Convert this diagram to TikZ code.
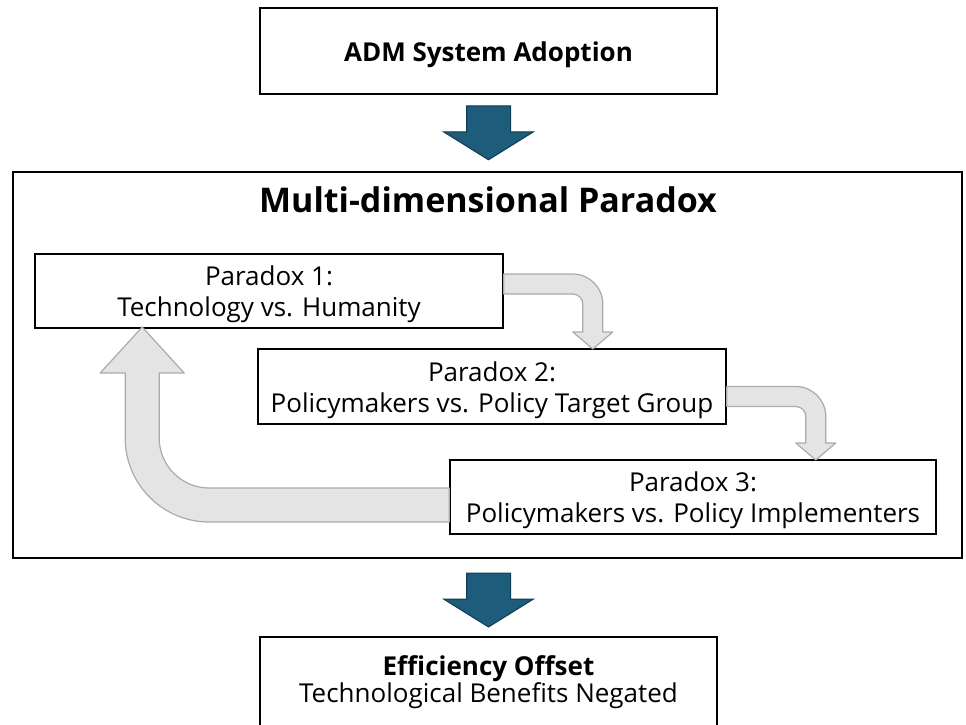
\documentclass[tikz,border=0pt]{standalone}
\usepackage{fontspec}
\setmainfont{Open Sans}
\usetikzlibrary{positioning,calc}

\definecolor{admblue}{HTML}{1D5C7B}
\definecolor{admblueline}{HTML}{0F3C52}
\definecolor{loopfill}{HTML}{E4E4E4}
\definecolor{loopline}{HTML}{ABABAB}

% strut that pushes the first text line down a little
\newcommand{\topstrut}{\rule{0pt}{27pt}}

\begin{document}
\begin{tikzpicture}[x=1pt, y=-1pt,
    box/.style={draw=black, line width=1.6pt, fill=white, align=center, inner sep=0pt},
    paradox/.style={box, minimum height=74pt, font=\fontsize{26}{31}\selectfont},
    downarrow/.style={fill=admblue, draw=admblueline, line width=1pt},
    loopback/.style={fill=loopfill, draw=loopline, line width=1.2pt, line join=round}]
    \useasboundingbox (0,0) rectangle (966,725);

    % Adoption box
    \node[box, minimum width=457pt, minimum height=86pt, font=\fontsize{26}{31}\selectfont\bfseries] (adm) at (488.5,51) {\topstrut ADM System Adoption};

    % Outer frame with title
    \node[draw=black, line width=2pt, minimum width=949pt, minimum height=386pt, inner sep=0pt] (frame) at (487.5,365) {};
    \node[font=\fontsize{34}{40}\selectfont\bfseries] (title) at (488,200) {Multi-dimensional Paradox};

    % The three paradoxes
    \node[paradox, minimum width=468pt] (p1) at (269,291) {\topstrut Paradox 1:\\Technology vs. Humanity};
    \node[paradox, minimum width=468pt, minimum height=75pt] (p2) at (492,386.5) {\topstrut Paradox 2:\\Policymakers vs. Policy Target Group};
    \node[paradox, minimum width=486pt] (p3) at (693,497) {\topstrut Paradox 3:\\Policymakers vs. Policy Implementers};

    % Efficiency offset box (runs off the bottom)
    \node[box, minimum width=457pt, minimum height=90pt, font=\fontsize{26}{26}\selectfont] (offset) at (488.5,682) {{\bfseries Efficiency Offset}\\Technological Benefits Negated};

    % Blue block arrows
    \draw[downarrow] ([xshift=-22pt,yshift=-11pt]adm.south) -- ++(44,0) -- ++(0,26) -- ++(23,0) -- ++(-45,28) -- ++(-45,-28) -- ++(23,0) -- cycle;
    \draw[downarrow] ([xshift=-21pt,yshift=-14pt]frame.south) -- ++(44,0) -- ++(0,26) -- ++(23,0) -- ++(-45,28) -- ++(-45,-28) -- ++(23,0) -- cycle;

    % Grey loop arrows
    \draw[loopback] ([yshift=17pt]p1.east) -- ++(69,0) arc[start angle=-90, end angle=0, radius=30] -- ++(0,28) -- ++(10,0) -- ++(-20,17) -- ++(-20,-17) -- ++(10,0) -- ++(0,-28) arc[start angle=0, end angle=-90, radius=10] -- ++(-69,0) -- cycle;
    \draw[loopback] (p2.east) -- ++(69,0) arc[start angle=-90, end angle=0, radius=30] -- ++(0,26.5) -- ++(10,0) -- ++(-20,17) -- ++(-20,-17) -- ++(10,0) -- ++(0,-26.5) arc[start angle=0, end angle=-90, radius=10] -- ++(-69,0) -- cycle;
    \draw[loopback] ([yshift=9pt]p3.west) -- ++(-240,0) arc[start angle=90, end angle=180, radius=50] -- ++(0,-65) -- ++(25,0) -- ++(-42,-46) -- ++(-42,46) -- ++(25,0) -- ++(0,65) arc[start angle=180, end angle=90, radius=84] -- ++(240,0) -- cycle;
\end{tikzpicture}
\end{document}
